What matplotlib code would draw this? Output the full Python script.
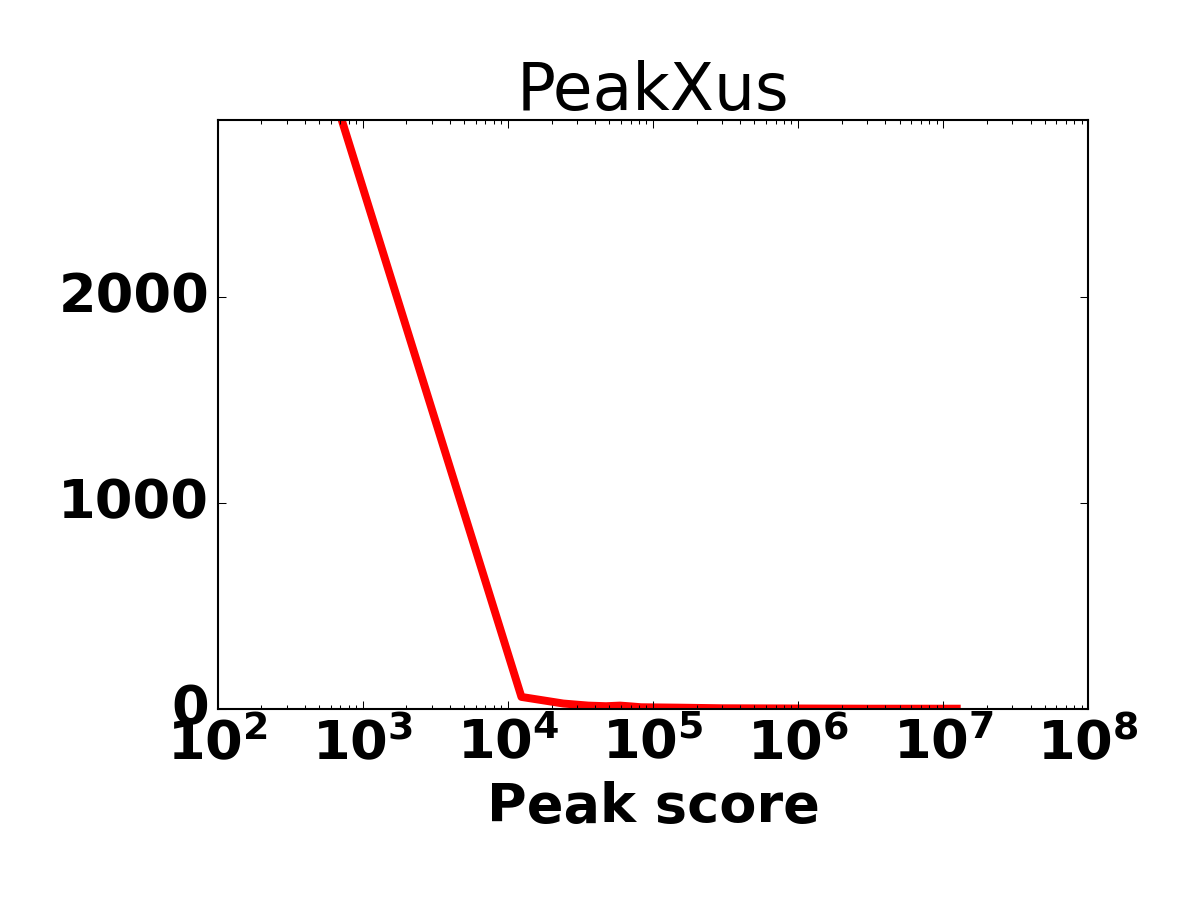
import matplotlib
matplotlib.use('Agg')
import matplotlib.pyplot as plt

# peak score bins (bin centres) and number of peaks
peak_score = [716, 12400, 24100, 35800, 47500, 59200, 70900, 82600,
              150000, 300000, 1000000, 3000000, 12400000]
n_peaks = [2861, 60, 28, 18, 15, 18, 14, 10, 8, 5, 4, 3, 3]

y_ticks = [0, 1000, 2000]

plt.style.use('classic')
fig = plt.figure(figsize=(8, 6), dpi=150, facecolor='white')
ax = fig.add_axes([0.1814, 0.2119, 0.7255, 0.6548])

ax.plot(peak_score, n_peaks, color='red', linewidth=3.8)
ax.set_xscale('log')
ax.set_xlim(1e2, 1e8)
ax.set_ylim(0, 2861)
ax.set_yticks(y_ticks)

ax.set_title('PeakXus', fontsize=31)
ax.set_xlabel('Peak score', fontsize=26, fontweight='bold')
for lab in ax.get_xticklabels() + ax.get_yticklabels():
    lab.set_fontsize(26)
    lab.set_fontweight('bold')

fig.savefig('out.png', dpi=150, facecolor='white')
